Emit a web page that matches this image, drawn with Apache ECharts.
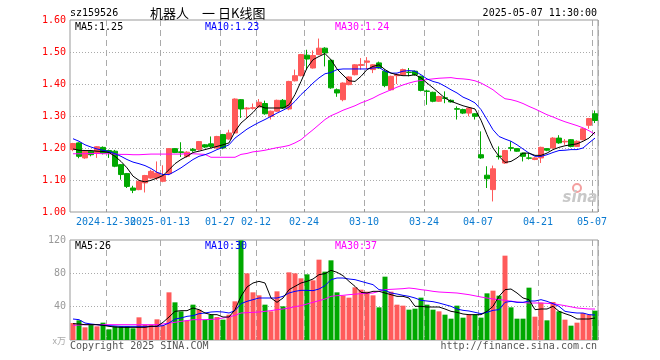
<!DOCTYPE html>
<html><head><meta charset="utf-8">
<script src="https://cdn.jsdelivr.net/npm/echarts@6/dist/echarts.min.js"></script>
<style>html,body{margin:0;padding:0;background:#fff}#c{width:660px;height:360px}</style>
</head><body><div id="c"></div>
<script>
const dates = [
'2024-12-20','2024-12-23','2024-12-24','2024-12-25','2024-12-26','2024-12-27','2024-12-30','2024-12-31',
'2025-01-02','2025-01-03','2025-01-06','2025-01-07','2025-01-08','2025-01-09','2025-01-10','2025-01-13','2025-01-14','2025-01-15','2025-01-16','2025-01-17','2025-01-20','2025-01-21','2025-01-22','2025-01-23','2025-01-24','2025-01-27',
'2025-02-05','2025-02-06','2025-02-07','2025-02-10','2025-02-11','2025-02-12','2025-02-13','2025-02-14','2025-02-17','2025-02-18','2025-02-19','2025-02-20','2025-02-21','2025-02-24','2025-02-25','2025-02-26','2025-02-27','2025-02-28',
'2025-03-03','2025-03-04','2025-03-05','2025-03-06','2025-03-07','2025-03-10','2025-03-11','2025-03-12','2025-03-13','2025-03-14','2025-03-17','2025-03-18','2025-03-19','2025-03-20','2025-03-21','2025-03-24','2025-03-25','2025-03-26','2025-03-27','2025-03-28','2025-03-31',
'2025-04-01','2025-04-02','2025-04-03','2025-04-07','2025-04-08','2025-04-09','2025-04-10','2025-04-11','2025-04-14','2025-04-15','2025-04-16','2025-04-17','2025-04-18','2025-04-21','2025-04-22','2025-04-23','2025-04-24','2025-04-25','2025-04-28','2025-04-29','2025-04-30',
'2025-05-06','2025-05-07'];

const labelDates = ['2024-12-30','2025-01-13','2025-01-27','2025-02-12','2025-02-24','2025-03-10','2025-03-24','2025-04-07','2025-04-21','2025-05-07'];
const tickLabels = ['2024-12-30','2025-01-13','01-27','02-12','02-24','03-10','03-24','04-07','04-21','05-07'];

const opens = [1.195,1.216,1.169,1.190,1.184,1.202,1.192,1.190,1.148,1.120,
1.075,1.070,1.091,1.106,1.106,1.096,1.120,1.198,1.188,1.174,
1.196,1.195,1.210,1.213,1.200,1.242,1.228,1.247,1.351,1.322,
1.324,1.328,1.339,1.299,1.315,1.349,1.322,1.410,1.426,1.490,
1.450,1.492,1.512,1.474,1.382,1.351,1.398,1.429,1.458,1.468,
1.445,1.466,1.440,1.382,1.426,1.429,1.437,1.440,1.424,1.378,
1.374,1.346,1.357,1.349,1.323,1.320,1.309,1.307,1.179,1.115,
1.070,1.175,1.153,1.201,1.198,1.184,1.169,1.164,1.169,1.198,
1.200,1.231,1.219,1.226,1.205,1.226,1.271,1.307];
const closes = [1.214,1.174,1.190,1.179,1.204,1.184,1.186,1.143,1.117,1.080,
1.068,1.096,1.114,1.127,1.122,1.114,1.198,1.186,1.186,1.187,
1.192,1.220,1.203,1.205,1.236,1.200,1.247,1.353,1.322,1.325,
1.326,1.343,1.307,1.315,1.349,1.325,1.408,1.426,1.492,1.478,
1.489,1.512,1.497,1.388,1.372,1.403,1.422,1.460,1.461,1.472,
1.460,1.450,1.395,1.424,1.430,1.445,1.436,1.429,1.380,1.377,
1.346,1.361,1.355,1.344,1.321,1.309,1.325,1.299,1.169,1.104,
1.135,1.173,1.192,1.199,1.190,1.174,1.168,1.169,1.202,1.193,
1.231,1.216,1.221,1.205,1.221,1.260,1.292,1.286];
const lows = [1.190,1.168,1.166,1.174,1.169,1.180,1.169,1.140,1.101,1.075,
1.059,1.068,1.061,1.104,1.100,1.093,1.115,1.184,1.172,1.170,
1.188,1.192,1.200,1.200,1.198,1.196,1.226,1.245,1.294,1.294,
1.320,1.326,1.304,1.289,1.313,1.322,1.318,1.408,1.424,1.445,
1.448,1.490,1.455,1.385,1.360,1.346,1.396,1.427,1.445,1.447,
1.434,1.448,1.390,1.380,1.400,1.427,1.424,1.426,1.377,1.335,
1.343,1.344,1.340,1.342,1.289,1.306,1.299,1.289,1.166,1.075,
1.033,1.164,1.150,1.190,1.188,1.158,1.164,1.162,1.153,1.190,
1.198,1.213,1.210,1.202,1.203,1.224,1.260,1.278];
const highs = [1.216,1.218,1.192,1.194,1.206,1.205,1.195,1.194,1.150,1.122,
1.082,1.098,1.116,1.132,1.158,1.146,1.200,1.200,1.218,1.190,
1.200,1.222,1.212,1.236,1.238,1.244,1.257,1.355,1.353,1.328,
1.339,1.353,1.348,1.317,1.351,1.353,1.410,1.445,1.494,1.507,
1.505,1.542,1.515,1.478,1.386,1.405,1.424,1.462,1.481,1.484,
1.462,1.470,1.446,1.426,1.433,1.448,1.450,1.442,1.426,1.382,
1.376,1.363,1.377,1.352,1.330,1.323,1.327,1.309,1.252,1.143,
1.145,1.205,1.194,1.221,1.200,1.186,1.184,1.171,1.204,1.200,
1.234,1.240,1.228,1.228,1.224,1.262,1.294,1.317];

const ma5 = [1.197,1.193,1.192,1.192,1.190,1.189,1.186,1.174,1.158,1.138,
1.112,1.099,1.094,1.099,1.106,1.114,1.132,1.151,1.164,1.174,
1.186,1.190,1.195,1.200,1.205,1.210,1.216,1.252,1.278,1.294,
1.311,1.332,1.325,1.325,1.325,1.325,1.335,1.367,1.408,1.450,
1.476,1.486,1.495,1.476,1.447,1.428,1.410,1.408,1.424,1.445,
1.455,1.460,1.445,1.434,1.429,1.426,1.426,1.429,1.419,1.403,
1.388,1.372,1.356,1.346,1.339,1.332,1.327,1.322,1.287,1.242,
1.200,1.174,1.155,1.158,1.169,1.184,1.184,1.177,1.177,1.184,
1.195,1.202,1.207,1.210,1.213,1.221,1.231,1.250];
const ma10 = [1.229,1.221,1.210,1.203,1.197,1.193,1.189,1.182,1.174,1.164,
1.156,1.151,1.145,1.136,1.124,1.117,1.117,1.127,1.138,1.151,
1.164,1.174,1.179,1.186,1.195,1.202,1.210,1.231,1.245,1.259,
1.270,1.280,1.289,1.299,1.309,1.318,1.328,1.346,1.367,1.384,
1.403,1.419,1.432,1.436,1.445,1.447,1.447,1.447,1.447,1.447,
1.450,1.452,1.440,1.434,1.434,1.440,1.442,1.440,1.429,1.416,
1.408,1.403,1.393,1.382,1.372,1.359,1.351,1.341,1.320,1.289,
1.257,1.236,1.228,1.221,1.210,1.197,1.184,1.174,1.174,1.179,
1.186,1.192,1.193,1.195,1.195,1.200,1.216,1.231];
const ma30 = [1.182,1.182,1.182,1.183,1.183,1.182,1.182,1.181,1.180,1.180,
1.179,1.179,1.180,1.181,1.181,1.181,1.181,1.181,1.181,1.182,
1.182,1.181,1.180,1.171,1.171,1.171,1.171,1.171,1.180,1.183,
1.188,1.190,1.193,1.197,1.201,1.204,1.208,1.216,1.226,1.242,
1.257,1.273,1.289,1.301,1.309,1.318,1.325,1.332,1.341,1.348,
1.356,1.366,1.374,1.382,1.390,1.397,1.403,1.408,1.411,1.414,
1.416,1.418,1.419,1.420,1.417,1.416,1.414,1.410,1.403,1.393,
1.382,1.367,1.354,1.351,1.346,1.339,1.330,1.322,1.313,1.304,
1.297,1.289,1.282,1.276,1.270,1.263,1.254,1.243];

const volumes = [20.4,23.6,15.2,18.4,16.4,20.8,12.8,16.4,16.4,16.4,
14,27.2,18.4,18.4,24.8,17.6,57.2,45.2,34.4,23.6,
42.4,36.4,24.4,30.4,27.6,24.4,30.4,46.4,119.6,80,
57.2,53.6,42.4,34.4,58.4,40.4,81.2,80,74,78.8,
71.6,96.4,82,95.6,57.2,53.2,50.8,63.2,60.4,58,
53.6,39.2,76,58,42.4,41.2,36.4,37.6,50.8,42.4,
36.4,34.4,30.4,25.6,41.2,26.8,30.4,30.4,26.8,56,
59.2,53.2,101.2,39.2,25.6,25.6,62.8,28,44.8,23.6,
45.6,34.4,24.4,17.2,20.8,32.4,30.4,35.2];
const vma5 = [19.6,19.2,18.4,18.4,18.4,17.6,16.4,15.6,15.2,15.2,
15.2,15.2,15.2,16.4,16.4,21.2,27.6,34.4,35.2,35.2,
38.4,36.4,32.4,30.4,30.4,27.6,27.6,36.4,52.4,63.6,
68.4,70.4,68.4,50.4,45.2,50.4,60.4,64.4,68.4,70.4,
73.2,78.4,79.6,83.6,81.2,77.2,70.4,64.4,57.2,56.4,
58.4,58.4,56.4,54.4,52.4,52.4,50.4,40.4,40.4,39.6,
39.6,39.6,37.2,34.4,33.2,31.2,30.4,30.4,30.4,34.4,
40.4,52.4,60.4,61.2,56.4,50.4,48.4,36.4,37.2,37.2,
40.4,34.4,31.6,29.2,25.2,25.2,25.2,26.4];
const vma10 = [25.2,24.4,20.4,19.2,18.4,17.6,17.2,16.8,16.4,16.4,
16.4,16.4,16.4,16.4,16.4,17.2,20.4,25.2,26.4,28.4,
29.2,31.6,32.4,33.6,34,33.6,32.4,35.2,43.6,46.4,
48.4,50.4,50.4,50.4,50.4,52.4,56.4,58.4,59.6,59.6,
59.2,61.2,65.2,72.4,74.4,74.4,73.2,72.4,70.4,68.4,
66.4,60.4,59.6,56.4,55.2,53.6,52.4,50.4,47.6,46.8,
46,44.4,42.4,40.4,37.2,35.6,34.8,33.2,31.6,33.2,
35.6,36.4,45.2,46.4,45.2,45.2,46.8,46.8,48.4,46.4,
43.6,40.4,34.4,33.2,32.4,32.4,30.4,30];
const vma30 = [17.6,18,18.4,18.4,18.4,18.4,18.4,18.4,18.4,18.4,
18.4,18.4,18.4,18.4,18.4,19.2,20.4,21.2,22.4,23.2,
24.4,24.4,24.4,24.8,25.2,26.4,27.6,29.6,32.4,32.8,
33.2,33.6,34.4,35.2,36.4,37.2,38.4,40,41.2,43.2,
45.2,47.2,49.2,52.4,53.2,53.6,54.4,55,55.6,56,
56.4,58.4,60.4,60.8,61.2,61.6,62.4,61.6,60.4,59.6,
58.4,57.6,57.2,56.8,56.4,55.4,54.4,53,51.6,50.4,
49.2,48.4,47.6,46.6,45.6,45,44.4,44.4,44.4,44,
43.6,42.4,41.2,39.8,38.4,37.8,37.2,37.2];

const UP = '#ff5a5a', DOWN = '#00a800';
const MONO = '"DejaVu Sans Mono", monospace';
const isTick = (i, v) => labelDates.indexOf(v) >= 0;
const isLabelMain = (i, v) => labelDates.indexOf(v) > 0;
const isLabelFirst = (i, v) => v === labelDates[0];

const chart = echarts.init(document.getElementById('c'), null, {renderer: 'canvas'});

const candleData = dates.map((d, i) => [opens[i], closes[i], lows[i], highs[i]]);
const volData = volumes.map((v, i) => ({value: v, itemStyle: {color: closes[i] >= opens[i] ? UP : DOWN}}));

const labelStyle = {color: '#0a7ad0', fontFamily: MONO, fontSize: 10, margin: 5, padding: [0, 6, 0, 0], hideOverlap: false,
  formatter: v => tickLabels[labelDates.indexOf(v)] || ''};

function xAxisCfg(gi, showLabel) {
  return {
    type: 'category', gridIndex: gi, data: dates, boundaryGap: true, position: 'bottom',
    axisLine: {show: false},
    axisTick: {show: true, inside: true, length: 3, interval: isTick, lineStyle: {color: '#999'}},
    axisLabel: Object.assign({show: showLabel, interval: isLabelMain}, labelStyle),
    splitLine: {show: true, interval: isTick, lineStyle: {color: '#aaa', type: [6, 4], width: 1}}
  };
}
function lineSeries(data, color, xi) {
  return {type: 'line', xAxisIndex: xi, yAxisIndex: xi, data: data, symbol: 'none', silent: true,
    lineStyle: {color: color, width: 1}, z: 5};
}
const txt = (text, x, y, fill, align, font) => ({
  type: 'text', silent: true, z: 100,
  style: {text: text, x: x, y: y, fill: fill, font: font || ('10px ' + MONO), textAlign: align || 'left', textVerticalAlign: 'middle'}
});

chart.setOption({
  animation: false,
  backgroundColor: '#fff',
  grid: [
    {left: 70, top: 20, width: 528, height: 192, show: true, borderColor: '#999', borderWidth: 1, backgroundColor: 'transparent'},
    {left: 70, top: 240, width: 528, height: 100, show: true, borderColor: '#999', borderWidth: 1, backgroundColor: 'transparent'}
  ],
  xAxis: [
    xAxisCfg(0, true),
    xAxisCfg(1, false),
    {type: 'category', gridIndex: 0, data: dates, boundaryGap: true, position: 'bottom', offset: 0,
     axisLine: {show: false}, axisTick: {show: false}, splitLine: {show: false},
     axisLabel: Object.assign({show: true, interval: isLabelFirst}, labelStyle)}
  ],
  yAxis: [
    {type: 'value', gridIndex: 0, min: 1.0, max: 1.6, interval: 0.1,
     axisLine: {show: false}, axisTick: {show: false},
     axisLabel: {color: '#ff0000', fontFamily: MONO, fontSize: 10, margin: 4, formatter: v => v.toFixed(2)},
     splitLine: {show: true, showMinLine: false, showMaxLine: false, lineStyle: {color: '#aaa', type: [1, 2]}}},
    {type: 'value', gridIndex: 1, min: 0, max: 120, interval: 40,
     axisLine: {show: false}, axisTick: {show: false},
     axisLabel: {color: '#999', fontFamily: MONO, fontSize: 10, margin: 4, formatter: v => v === 0 ? '' : String(v)},
     splitLine: {show: true, showMinLine: false, showMaxLine: false, lineStyle: {color: '#aaa', type: [1, 2]}}}
  ],
  series: [
    {type: 'candlestick', xAxisIndex: 0, yAxisIndex: 0, data: candleData, barWidth: 5, silent: true,
     itemStyle: {color: UP, color0: DOWN, borderColor: UP, borderColor0: DOWN, borderWidth: 1}},
    lineSeries(ma30, '#ff00ff', 0),
    lineSeries(ma10, '#0000ff', 0),
    lineSeries(ma5, '#000000', 0),
    {type: 'bar', xAxisIndex: 1, yAxisIndex: 1, data: volData, barWidth: 5, silent: true},
    lineSeries(vma30, '#ff00ff', 1),
    lineSeries(vma10, '#0000ff', 1),
    lineSeries(vma5, '#000000', 1)
  ],
  graphic: [
    txt('sz159526', 70, 13, '#000'),
    txt('机器人', 150, 13, '#000', 'left', '13px "Noto Sans CJK SC"'),
    txt('一', 202, 13, '#000', 'left', '13px "Noto Sans CJK SC"'),
    txt('日K线图', 218, 13, '#000', 'left', '13px "Noto Sans CJK SC"'),
    txt('2025-05-07 11:30:00', 597, 13, '#000', 'right'),
    txt('MA5:' + ma5[ma5.length - 1].toFixed(2), 75, 27, '#000'),
    txt('MA10:' + ma10[ma10.length - 1].toFixed(2), 205, 27, '#0000ff'),
    txt('MA30:' + ma30[ma30.length - 1].toFixed(2), 335, 27, '#ff00ff'),
    txt('MA5:' + Math.round(vma5[vma5.length - 1]), 75, 246, '#000'),
    txt('MA10:' + Math.round(vma10[vma10.length - 1]), 205, 246, '#0000ff'),
    txt('MA30:' + Math.round(vma30[vma30.length - 1]), 335, 246, '#ff00ff'),
    txt('x万', 66, 341, '#aaa', 'right', '9px "Noto Sans CJK SC"'),
    txt('Copyright 2025 SINA.COM', 70, 346, '#555'),
    txt('http://finance.sina.com.cn', 597, 346, '#555', 'right'),
    {type: 'circle', silent: true, z: 99, shape: {cx: 577, cy: 188, r: 4},
     style: {fill: 'none', stroke: '#f4a0a0', lineWidth: 2}},
    txt('sina', 580, 198, '#c8c8c8', 'center', 'italic bold 15px "DejaVu Sans"')
  ]
});
</script>
</body></html>
